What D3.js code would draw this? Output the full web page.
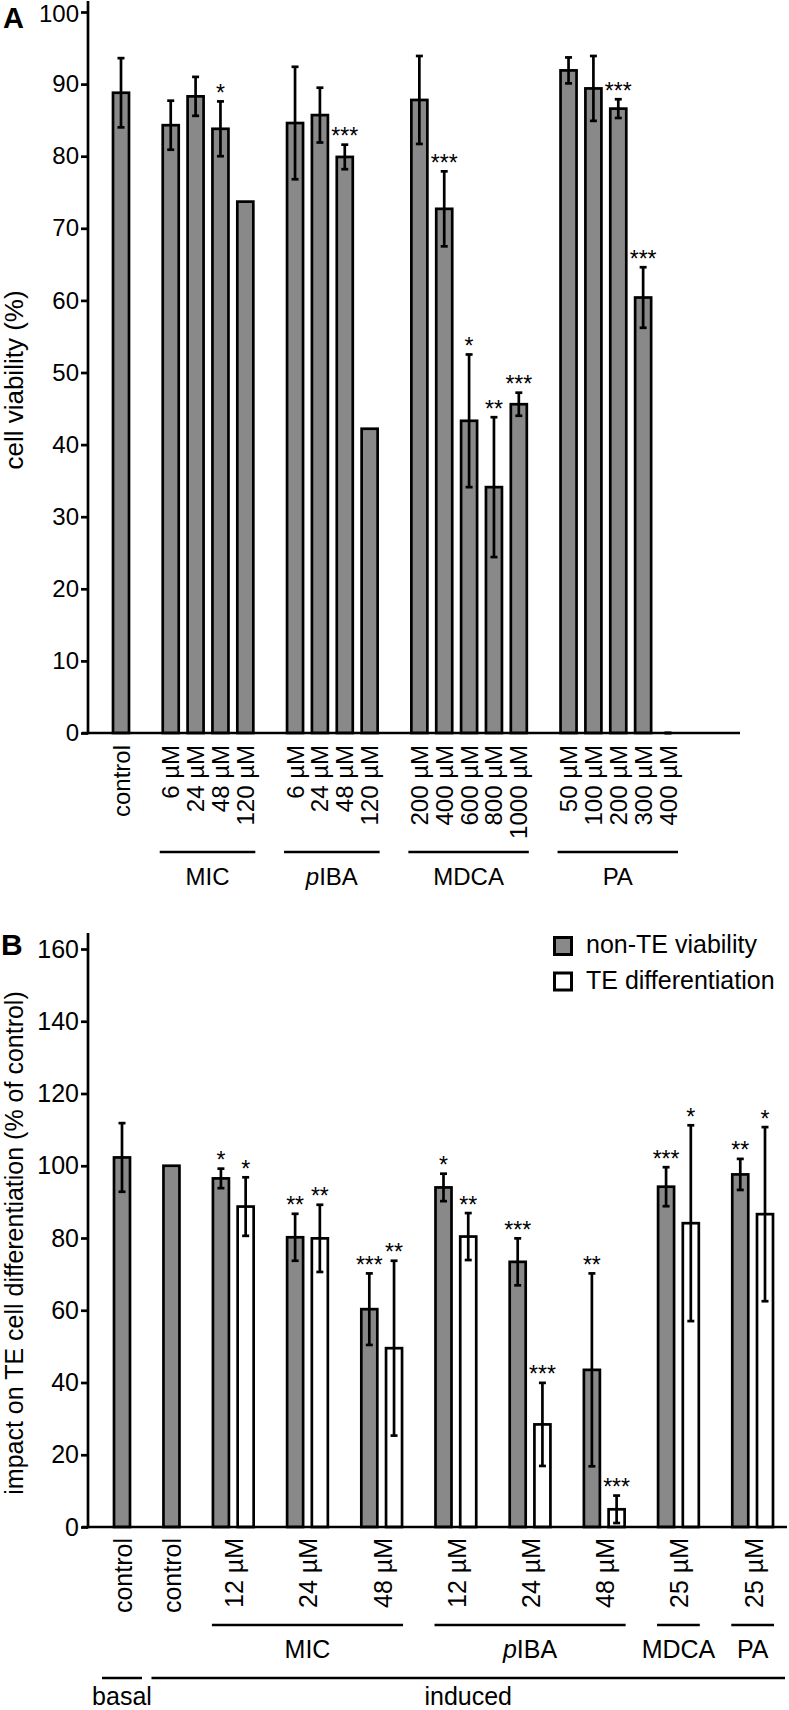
<!DOCTYPE html>
<html><head><meta charset="utf-8">
<script src="https://cdn.jsdelivr.net/npm/d3@7"></script>
<style>
html,body{margin:0;padding:0;background:#fff;}
text{font-family:"Liberation Sans",Arial,Helvetica,sans-serif;fill:#000;}
</style></head>
<body><svg id="c" width="789" height="1710"></svg>
<script>
// ---------- Panel A data ----------
const groupNamesA = ["", "MIC", "pIBA", "MDCA", "PA"];
const dosesA = [
  ["control"],
  ["6 µM", "24 µM", "48 µM", "120 µM"],
  ["6 µM", "24 µM", "48 µM", "120 µM"],
  ["200 µM", "400 µM", "600 µM", "800 µM", "1000 µM"],
  ["50 µM", "100 µM", "200 µM", "300 µM", "400 µM"]
];
const viabilityA = [88.8, 84.3, 88.3, 83.8, 73.7, 84.6, 85.7, 79.9, 42.2, 87.8, 72.7, 43.3, 34.1, 45.6, 91.9, 89.4, 86.6, 60.4, 0];
const errorA = [4.8, 3.4, 2.7, 3.8, null, 7.8, 3.8, 1.7, null, 6.1, 5.2, 9.2, 9.7, 1.6, 1.8, 4.5, 1.3, 4.2, 0];
const sigA = ["", "", "", "*", "", "", "", "***", "", "", "***", "*", "**", "***", "", "", "***", "***", ""];
const ticksA = [0, 10, 20, 30, 40, 50, 60, 70, 80, 90, 100];

// ---------- Panel B data ----------
const labelsB = ["control", "control", "12 µM", "24 µM", "48 µM", "12 µM", "24 µM", "48 µM", "25 µM", "25 µM"];
const compoundB = ["", "", "MIC", "MIC", "MIC", "pIBA", "pIBA", "pIBA", "MDCA", "PA"];
const conditionB = ["basal", "induced", "induced", "induced", "induced", "induced", "induced", "induced", "induced", "induced"];
const viabilityB = [102.3, 100, 96.5, 80.2, 60.3, 94.0, 73.4, 43.5, 94.2, 97.6];
const viabilityErrB = [9.5, null, 2.7, 6.5, 9.9, 3.8, 6.5, 26.7, 5.4, 4.3];
const viabilitySigB = ["", "", "*", "**", "***", "*", "***", "**", "***", "**"];
const teDiffB = [null, null, 88.7, 79.9, 49.5, 80.4, 28.4, 4.9, 84.1, 86.6];
const teDiffErrB = [null, null, 8.1, 9.3, 24.2, 6.5, 11.5, 3.8, 27.1, 24.1];
const teDiffSigB = ["", "", "*", "**", "**", "**", "***", "***", "*", "*"];
const ticksB = [0, 20, 40, 60, 80, 100, 120, 140, 160];
const legendB = ["non-TE viability", "TE differentiation"];

const GRAY = "#898989";
const SW = 2.7;
const svg = d3.select("#c");

function compoundLabel(sel, name) {
  if (name === "pIBA") {
    sel.append("tspan").attr("font-style", "italic").text("p");
    sel.append("tspan").text("IBA");
  } else sel.text(name);
}

function drawBar(g, cx, v, e, sig, fill, y, bw) {
  g.append("rect").attr("x", cx - bw / 2).attr("y", y(v)).attr("width", bw)
    .attr("height", y(0) - y(v)).attr("fill", fill).attr("stroke", "#000").attr("stroke-width", SW);
  let top = y(v);
  if (e !== null && e !== undefined) {
    const hi = y(v + e), lo = y(Math.max(0, v - e));
    g.append("line").attr("x1", cx).attr("x2", cx).attr("y1", hi).attr("y2", lo).attr("stroke", "#000").attr("stroke-width", SW);
    [hi, lo].forEach(yy => g.append("line").attr("x1", cx - 3.5).attr("x2", cx + 3.5).attr("y1", yy).attr("y2", yy).attr("stroke", "#000").attr("stroke-width", SW));
    top = hi;
  }
  if (sig) g.append("text").attr("x", cx).attr("y", top - 0.5).attr("text-anchor", "middle").attr("font-size", 23).text(sig);
}

// ================= PANEL A =================
(function () {
  const domain = [];
  const items = [];
  let k = 0;
  dosesA.forEach((ds, gi) => {
    if (gi > 0) domain.push("gap" + gi);
    ds.forEach(d => { const key = gi + "|" + d; domain.push(key); items.push({ key, label: d, group: gi, i: k++ }); });
  });
  const x = d3.scalePoint().domain(domain).range([121, 668]);
  const y = d3.scaleLinear().domain([0, 100]).range([733, 12]);
  const g = svg.append("g");

  items.forEach(it => drawBar(g, x(it.key), viabilityA[it.i], errorA[it.i], sigA[it.i], GRAY, y, 16));

  const ax = g.append("g").attr("transform", "translate(88,0)")
    .call(d3.axisLeft(y).tickValues(ticksA).tickSize(7).tickPadding(2));
  ax.select(".domain").remove();
  ax.selectAll(".tick line").attr("stroke", "#000").attr("stroke-width", SW);
  ax.selectAll(".tick text").attr("font-size", 24).attr("font-family", "Liberation Sans, Arial, sans-serif").attr("fill", "#000")
    .attr("dy", d => d === 100 ? "0.4em" : "0.32em");
  g.append("line").attr("x1", 88).attr("x2", 88).attr("y1", 1).attr("y2", y(0) + 1.3).attr("stroke", "#000").attr("stroke-width", SW);
  g.append("line").attr("x1", 82).attr("x2", 740).attr("y1", y(0)).attr("y2", y(0)).attr("stroke", "#000").attr("stroke-width", SW);

  items.forEach(it => {
    g.append("text").attr("transform", `translate(${x(it.key)},745) rotate(-90)`)
      .attr("text-anchor", "end").attr("dominant-baseline", "central").attr("font-size", 24).text(it.label);
  });
  groupNamesA.forEach((name, gi) => {
    if (!name) return;
    const ks = items.filter(it => it.group === gi);
    const x0 = x(ks[0].key) - 11, x1 = x(ks[ks.length - 1].key) + 10;
    g.append("line").attr("x1", x0).attr("x2", x1).attr("y1", 852).attr("y2", 852).attr("stroke", "#000").attr("stroke-width", SW);
    g.append("text").attr("x", (x0 + x1) / 2).attr("y", 885).attr("text-anchor", "middle").attr("font-size", 24).call(s => compoundLabel(s, name));
  });
  g.append("text").attr("transform", "translate(23,380) rotate(-90)").attr("text-anchor", "middle").attr("font-size", 26).text("cell viability (%)");
  g.append("text").attr("x", 3).attr("y", 28).attr("font-size", 29).attr("font-weight", "bold").text("A");
})();

// ================= PANEL B =================
(function () {
  const domain = [];
  const items = [];
  labelsB.forEach((lab, i) => {
    if (i > 0) domain.push("gap" + i);
    domain.push(i + "g");
    if (teDiffB[i] !== null) domain.push(i + "w");
    items.push({ i, label: lab });
  });
  const x = d3.scalePoint().domain(domain).range([122, 765]);
  const y = d3.scaleLinear().domain([0, 160]).range([1527, 949]);
  const g = svg.append("g");
  const center = i => teDiffB[i] !== null ? (x(i + "g") + x(i + "w")) / 2 : x(i + "g");

  items.forEach(({ i }) => {
    drawBar(g, x(i + "g"), viabilityB[i], viabilityErrB[i], viabilitySigB[i], GRAY, y, 16);
    if (teDiffB[i] !== null) drawBar(g, x(i + "w"), teDiffB[i], teDiffErrB[i], teDiffSigB[i], "#fff", y, 16);
  });

  const ax = g.append("g").attr("transform", "translate(88,0)")
    .call(d3.axisLeft(y).tickValues(ticksB).tickSize(7).tickPadding(2));
  ax.select(".domain").remove();
  ax.selectAll(".tick line").attr("stroke", "#000").attr("stroke-width", SW);
  ax.selectAll(".tick text").attr("font-size", 25).attr("font-family", "Liberation Sans, Arial, sans-serif").attr("fill", "#000");
  g.append("line").attr("x1", 88).attr("x2", 88).attr("y1", 933).attr("y2", y(0) + 1.3).attr("stroke", "#000").attr("stroke-width", SW);
  g.append("line").attr("x1", 82).attr("x2", 787).attr("y1", y(0)).attr("y2", y(0)).attr("stroke", "#000").attr("stroke-width", SW);

  items.forEach(({ i, label }) => {
    g.append("text").attr("transform", `translate(${center(i) + 1},1538) rotate(-90)`)
      .attr("text-anchor", "end").attr("dominant-baseline", "central").attr("font-size", 25).text(label);
  });

  const compounds = Array.from(new Set(compoundB.filter(c => c)));
  compounds.forEach(name => {
    const idx = compoundB.map((c, i) => c === name ? i : -1).filter(i => i >= 0);
    const first = idx[0], last = idx[idx.length - 1];
    const x0 = x(first + "g") - 9, x1 = x(last + "w") + 9;
    g.append("line").attr("x1", x0).attr("x2", x1).attr("y1", 1625).attr("y2", 1625).attr("stroke", "#000").attr("stroke-width", SW);
    g.append("text").attr("x", (x0 + x1) / 2).attr("y", 1658).attr("text-anchor", "middle").attr("font-size", 25).call(s => compoundLabel(s, name));
  });
  const conds = Array.from(new Set(conditionB));
  conds.forEach(name => {
    const idx = conditionB.map((c, i) => c === name ? i : -1).filter(i => i >= 0);
    const first = idx[0], last = idx[idx.length - 1];
    const x0 = x(first + "g") - 20;
    const x1 = (teDiffB[last] !== null ? x(last + "w") : x(last + "g")) + 20;
    g.append("line").attr("x1", x0).attr("x2", x1).attr("y1", 1678).attr("y2", 1678).attr("stroke", "#000").attr("stroke-width", SW);
    g.append("text").attr("x", (x0 + x1) / 2).attr("y", 1705).attr("text-anchor", "middle").attr("font-size", 25).text(name);
  });

  const lg = g.append("g");
  [GRAY, "#fff"].forEach((f, k) => {
    lg.append("rect").attr("x", 554.5).attr("y", 937.5 + k * 35.5).attr("width", 17).attr("height", 17)
      .attr("fill", f).attr("stroke", "#000").attr("stroke-width", 3);
    lg.append("text").attr("x", 586).attr("y", 953 + k * 35.5).attr("font-size", 25).text(legendB[k]);
  });

  g.append("text").attr("transform", "translate(23,1243) rotate(-90)").attr("text-anchor", "middle").attr("font-size", 25).text("impact on TE cell differentiation (% of control)");
  g.append("text").attr("x", 1).attr("y", 955).attr("font-size", 30).attr("font-weight", "bold").text("B");
})();
</script></body></html>
